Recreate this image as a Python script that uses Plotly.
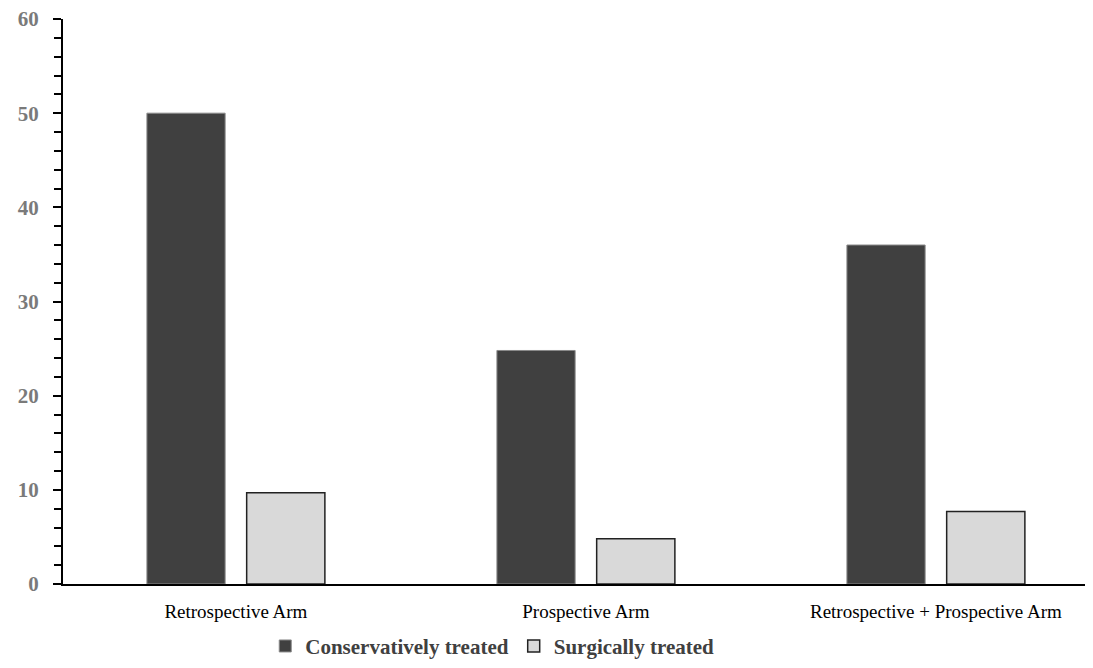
import plotly.graph_objects as go

categories = ["Retrospective Arm", "Prospective Arm", "Retrospective + Prospective Arm"]
conservative = [50, 24.8, 36]
surgical = [9.7, 4.8, 7.7]
series_names = ["Conservatively treated", "Surgically treated"]

fig = go.Figure()
fig.add_trace(go.Bar(x=categories, y=conservative, name="<b>" + series_names[0] + "</b>",
                     marker=dict(color="#404040", line=dict(color="#8a8a8a", width=1))))
fig.add_trace(go.Bar(x=categories, y=surgical, name="<b>" + series_names[1] + "</b>",
                     marker=dict(color="#d9d9d9", line=dict(color="#222222", width=1.5))))

fig.update_layout(
    width=1077, height=652,
    margin=dict(l=55, r=0, t=11, b=76, autoexpand=False),
    plot_bgcolor="white", paper_bgcolor="white",
    barmode="group", bargap=0.43, bargroupgap=0.216,
    font=dict(family="Liberation Serif", color="black"),
    showlegend=True,
    legend=dict(orientation="h", x=0.42, xanchor="center", y=-0.074, yanchor="top",
                font=dict(family="Liberation Serif", size=21, color="#404040"),
                itemwidth=30, traceorder="normal"),
)
fig.update_xaxes(type="category", range=[-0.494, 2.426], showline=True, linecolor="black", linewidth=2,
                 ticks="", ticklabelstandoff=9, automargin=False,
                 tickfont=dict(family="Liberation Serif", size=19, color="black"),
                 showgrid=False)
fig.update_yaxes(range=[0, 60], tickvals=[0, 10, 20, 30, 40, 50, 60], showline=True, linecolor="black",
                 linewidth=2, ticks="outside", ticklen=8, tickwidth=2, tickcolor="black",
                 minor=dict(dtick=2, ticks="outside", ticklen=7, tickwidth=2, tickcolor="black"),
                 ticklabelstandoff=10, automargin=False, ticklabeloverflow="allow",
                 tickfont=dict(family="Liberation Serif", size=21, color="#7a7a7a", weight="bold"),
                 showgrid=False, zeroline=False)

fig.write_html("out.html")
